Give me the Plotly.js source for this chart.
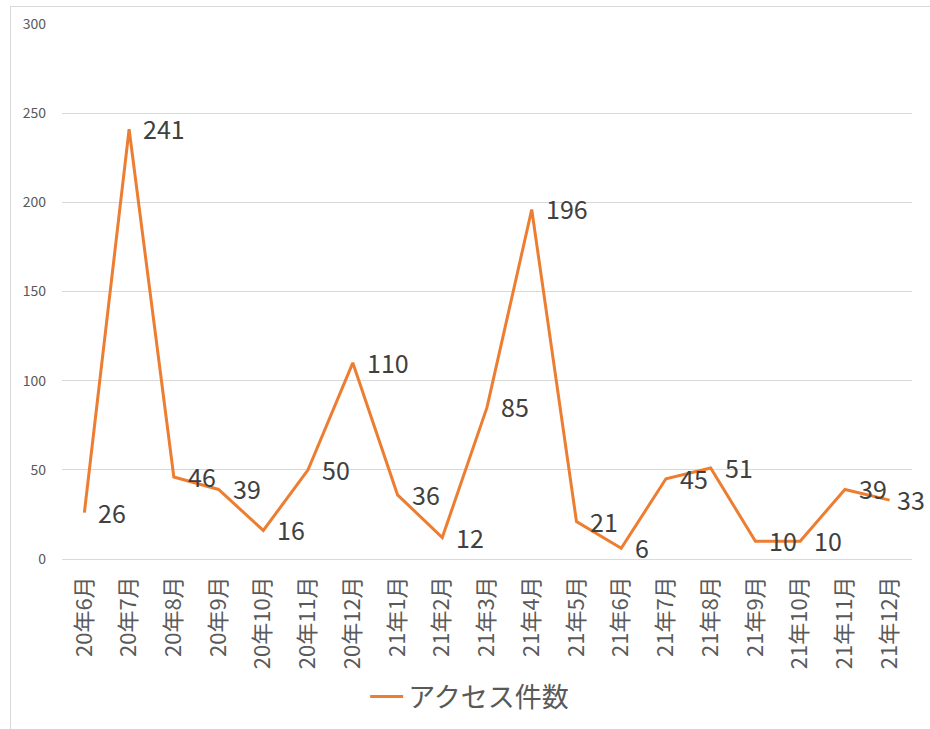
<!DOCTYPE html>
<html>
<head>
<meta charset="utf-8">
<script src="https://cdn.plot.ly/plotly-3.0.1.min.js"></script>
<style>
html,body{margin:0;padding:0;background:#fff;}
#frame{position:absolute;left:10px;top:6px;width:940px;height:740px;border:1px solid #d9d9d9;box-sizing:border-box;}
#chart{position:absolute;left:0;top:0;width:930px;height:729px;}
</style>
</head>
<body>
<div id="frame"></div>
<div id="chart"></div>
<script>
const categories = ["20年6月","20年7月","20年8月","20年9月","20年10月","20年11月","20年12月","21年1月","21年2月","21年3月","21年4月","21年5月","21年6月","21年7月","21年8月","21年9月","21年10月","21年11月","21年12月"];
const accessCounts = [26,241,46,39,16,50,110,36,12,85,196,21,6,45,51,10,10,39,33];
const seriesName = "アクセス件数";
const yTicks = [0,50,100,150,200,250,300];

const font = '"Noto Sans CJK JP", "Noto Sans", sans-serif';

const lineTrace = {
  x: categories,
  y: accessCounts,
  name: seriesName,
  type: 'scatter',
  mode: 'lines',
  line: {color: '#ED7D31', width: 3},
  hoverinfo: 'x+y'
};

const lastIndex = categories.length - 1;
const labelAnnotations = categories.map((c, i) => ({
  x: c,
  y: accessCounts[i],
  xref: 'x', yref: 'y',
  text: String(accessCounts[i]),
  showarrow: false,
  xanchor: 'left',
  yanchor: 'middle',
  xshift: i === lastIndex ? 5 : 12,
  yshift: 1,
  font: {family: font, size: 25, color: '#404040'}
}));

const layout = {
  width: 930, height: 729,
  margin: {l: 62, r: 18, t: 24, b: 170},
  paper_bgcolor: 'rgba(0,0,0,0)',
  plot_bgcolor: 'rgba(0,0,0,0)',
  font: {family: font, color: '#595959'},
  xaxis: {
    type: 'category',
    range: [-0.5, categories.length - 0.5],
    tickangle: -90,
    tickfont: {family: font, size: 22, color: '#595959'},
    showgrid: false,
    showline: false,
    zeroline: false,
    ticks: '',
    ticklabelstandoff: 12,
    automargin: false
  },
  yaxis: {
    range: [0, 300],
    tickvals: yTicks,
    ticktext: yTicks.map(String),
    tickfont: {family: font, size: 14, color: '#595959'},
    gridcolor: '#D9D9D9',
    gridwidth: 1,
    zeroline: true,
    zerolinecolor: '#D9D9D9',
    zerolinewidth: 1,
    showline: false,
    ticks: '',
    ticklabelstandoff: 15,
    automargin: false
  },
  annotations: labelAnnotations,
  showlegend: true,
  legend: {
    orientation: 'h',
    xref: 'container', yref: 'container',
    x: 0.505, xanchor: 'center',
    y: 0.044, yanchor: 'middle',
    font: {family: font, size: 27, color: '#595959'},
    bgcolor: 'rgba(0,0,0,0)',
    itemwidth: 33
  }
};

Plotly.newPlot('chart', [lineTrace], layout, {displayModeBar: false, staticPlot: true});
</script>
</body>
</html>
